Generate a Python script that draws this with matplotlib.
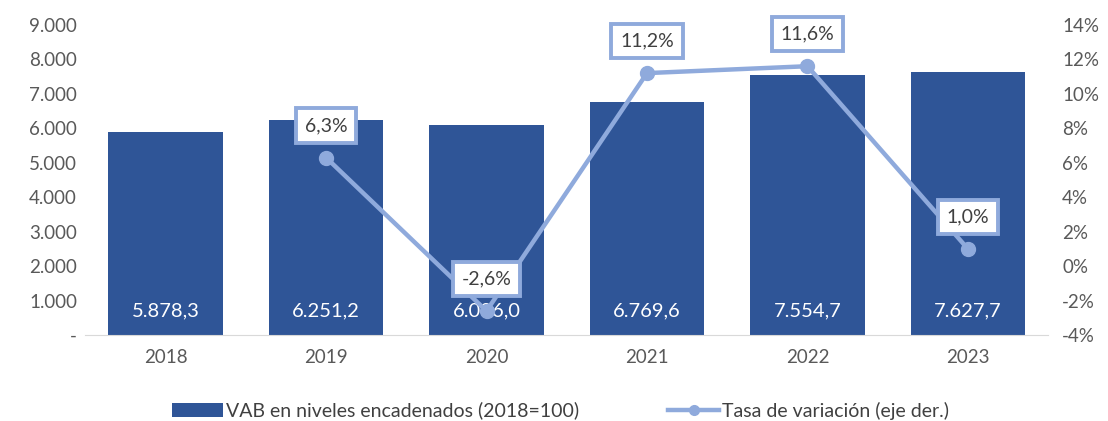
import matplotlib
matplotlib.use("Agg")
import matplotlib.pyplot as plt
from matplotlib.ticker import FuncFormatter

plt.rcParams['font.family'] = ['Lato', 'DejaVu Sans']

years = ["2018", "2019", "2020", "2021", "2022", "2023"]
vab = [5878.3, 6251.2, 6086.0, 6769.6, 7554.7, 7627.7]
tasa_years = ["2019", "2020", "2021", "2022", "2023"]
tasa = [6.3, -2.6, 11.2, 11.6, 1.0]

bar_color = "#2F5597"
line_color = "#8FAADC"
text_color = "#595959"

fig = plt.figure(figsize=(11.08, 4.21), dpi=100)
ax = fig.add_axes([0.077, 0.204, 0.869, 0.737])
x = list(range(len(years)))
bars = ax.bar(x, vab, width=0.715, color=bar_color, zorder=2,
              label="VAB en niveles encadenados (2018=100)")
ax.set_ylim(0, 9000)
ax.set_xlim(-0.5, len(years) - 0.5)
ax.set_yticks(range(0, 9001, 1000))

def fmt_left(v, pos):
    if v == 0:
        return "-"
    return f"{int(v):,}".replace(",", ".")
ax.yaxis.set_major_formatter(FuncFormatter(fmt_left))
ax.set_xticks(x)
ax.set_xticklabels(years)
for s in ["top", "right", "left"]:
    ax.spines[s].set_visible(False)
ax.spines["bottom"].set_color("#D9D9D9")
ax.tick_params(axis="both", length=0, colors=text_color, labelsize=13.5)
ax.tick_params(axis="x", pad=10)
ax.tick_params(axis="y", pad=6)

for xi, v in zip(x, vab):
    ax.text(xi, 700, f"{v:,.1f}".replace(",", "X").replace(".", ",").replace("X", "."),
            ha="center", va="center", color="white", fontsize=14.5, zorder=3)

ax2 = ax.twinx()
ax2.set_ylim(-4, 14)
ax2.set_yticks(range(-4, 15, 2))
ax2.yaxis.set_major_formatter(FuncFormatter(lambda v, p: f"{int(v)}%"))
for s in ["top", "right", "left", "bottom"]:
    ax2.spines[s].set_visible(False)
ax2.tick_params(axis="y", length=0, colors=text_color, labelsize=13.5, pad=10)

tx = [years.index(y) for y in tasa_years]
ax2.plot(tx, tasa, color=line_color, lw=3.2, marker="o", markersize=10,
         zorder=4, label="Tasa de variación (eje der.)")
for xi, v in zip(tx, tasa):
    ax2.annotate(f"{v:.1f}%".replace(".", ","), (xi, v), xytext=(0, 32),
                 textcoords="offset pixels",
                 ha="center", va="center", fontsize=14, color="#404040",
                 zorder=6,
                 bbox=dict(boxstyle="square,pad=0.45", fc="white",
                           ec=line_color, lw=2.8))

h1, l1 = ax.get_legend_handles_labels()
h2, l2 = ax2.get_legend_handles_labels()
leg = fig.legend(h1 + h2, l1 + l2, loc="center", bbox_to_anchor=(0.506, 0.025),
                 ncol=2, frameon=False, fontsize=14, labelcolor="#404040",
                 columnspacing=4.6, handlelength=2.6, handletextpad=0.15,
                 markerscale=0.7)

fig.savefig("out.png", dpi=100)
